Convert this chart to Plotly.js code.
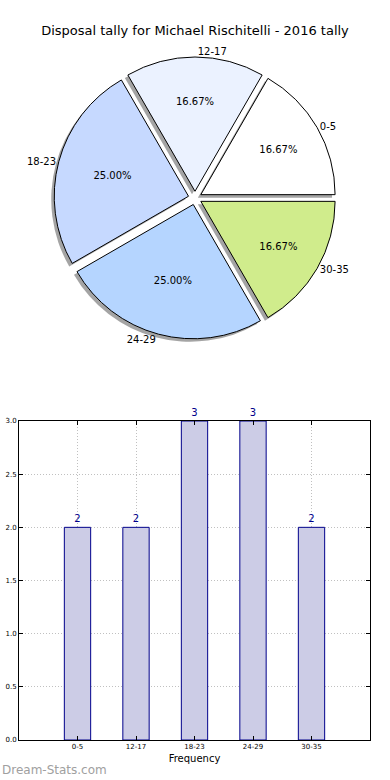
<!DOCTYPE html>
<html>
<head>
<meta charset="utf-8">
<script src="https://cdn.plot.ly/plotly-3.0.1.min.js"></script>
<style>
html,body{margin:0;padding:0;background:#fff;}
#chart{width:390px;height:780px;}
</style>
</head>
<body>
<div id="chart"></div>
<script>
// Data
const categories = ['0-5', '12-17', '18-23', '24-29', '30-35'];
const counts = [2, 2, 3, 3, 2];
const sliceColors = ['#ffffff', '#ebf2ff', '#c6d9ff', '#b5d5ff', '#d0ec8c'];
const yTicks = [0, 0.5, 1.0, 1.5, 2.0, 2.5, 3.0];
const titleText = 'Disposal tally for Michael Rischitelli - 2016 tally';

const FONT = 'DejaVu Sans, Verdana, sans-serif';
const W = 390, H = 780;

// pie geometry (pixels)
const cx = 195, cy = 198, D = 282;
const shadowDx = -3, shadowDy = 3;
const ROT = 30;
function dom(x0, y0) {
  return {
    x: [(x0 - D / 2) / W, (x0 + D / 2) / W],
    y: [(H - y0 - D / 2) / H, (H - y0 + D / 2) / H]
  };
}
const pulls = categories.map(() => 0.05);

const shadow = {
  type: 'pie', labels: categories, values: counts, sort: false,
  direction: 'counterclockwise', rotation: ROT, pull: pulls,
  domain: dom(cx + shadowDx, cy + shadowDy),
  marker: { colors: categories.map(() => 'rgba(90,90,90,0.55)'), line: { width: 0 } },
  textinfo: 'none', hoverinfo: 'skip', showlegend: false
};

const mainPie = {
  type: 'pie', labels: categories, values: counts, sort: false,
  direction: 'counterclockwise', rotation: ROT, pull: pulls,
  domain: dom(cx, cy),
  marker: { colors: sliceColors, line: { color: '#000000', width: 1 } },
  texttemplate: '%{percent:.2%}', textposition: 'inside',
  insidetextorientation: 'horizontal',
  insidetextfont: { family: FONT, size: 10, color: '#000000' },
  hoverinfo: 'label+percent', showlegend: false
};

const labelPie = {
  type: 'pie', labels: categories, values: counts, sort: false,
  direction: 'counterclockwise', rotation: ROT, pull: pulls,
  domain: dom(cx, cy),
  marker: { colors: categories.map(() => 'rgba(0,0,0,0)'), line: { width: 0 } },
  textinfo: 'label', textposition: 'outside',
  outsidetextfont: { family: FONT, size: 10, color: '#000000' },
  automargin: false,
  hoverinfo: 'skip', showlegend: false
};

const bars = {
  type: 'bar', x: categories, y: counts, width: 0.45,
  marker: { color: '#ccccE6', line: { color: '#00008b', width: 1 } },
  text: counts.map(String), textposition: 'outside', cliponaxis: false,
  textfont: { family: FONT, size: 10, color: '#00008b' },
  xaxis: 'x', yaxis: 'y', showlegend: false, hoverinfo: 'x+y'
};

const layout = {
  width: W, height: H,
  margin: { l: 0, r: 0, t: 0, b: 0 },
  paper_bgcolor: '#ffffff', plot_bgcolor: '#ffffff',
  font: { family: FONT, color: '#000000' },
  showlegend: false,
  title: {
    text: titleText, font: { family: FONT, size: 13, color: '#000000' },
    x: 0.5, xanchor: 'center', y: 1 - 30 / H, yanchor: 'middle', yref: 'container'
  },
  xaxis: {
    domain: [19 / W, 370 / W], anchor: 'y',
    type: 'category', range: [-1, 5],
    showline: true, linecolor: '#000000', linewidth: 1, mirror: 'ticks',
    ticks: 'inside', ticklen: 4, tickcolor: '#000000',
    showgrid: true, gridcolor: '#c0c0c0', griddash: '1px,2px', gridwidth: 1,
    tickfont: { family: FONT, size: 7, color: '#000000' },
    title: { text: 'Frequency', font: { family: FONT, size: 10, color: '#000000' }, standoff: 4 },
    zeroline: false, fixedrange: true
  },
  yaxis: {
    domain: [(H - 740) / H, (H - 421) / H], anchor: 'x',
    range: [0, 3],
    tickvals: yTicks, ticktext: yTicks.map(v => v.toFixed(1)),
    showline: true, linecolor: '#000000', linewidth: 1, mirror: 'ticks',
    ticks: 'inside', ticklen: 4, tickcolor: '#000000',
    showgrid: true, gridcolor: '#c0c0c0', griddash: '1px,2px', gridwidth: 1,
    tickfont: { family: FONT, size: 7, color: '#000000' },
    zeroline: false, fixedrange: true
  },
  annotations: [{
    text: 'Dream-Stats.com', xref: 'paper', yref: 'paper',
    x: 0, xanchor: 'left', y: (H - 770) / H, yanchor: 'middle',
    showarrow: false, font: { family: 'DejaVu Sans, sans-serif', size: 12, color: '#a0a0a0' }
  }]
};

Plotly.newPlot('chart', [shadow, mainPie, labelPie, bars], layout, { displayModeBar: false, staticPlot: true });
</script>
</body>
</html>
